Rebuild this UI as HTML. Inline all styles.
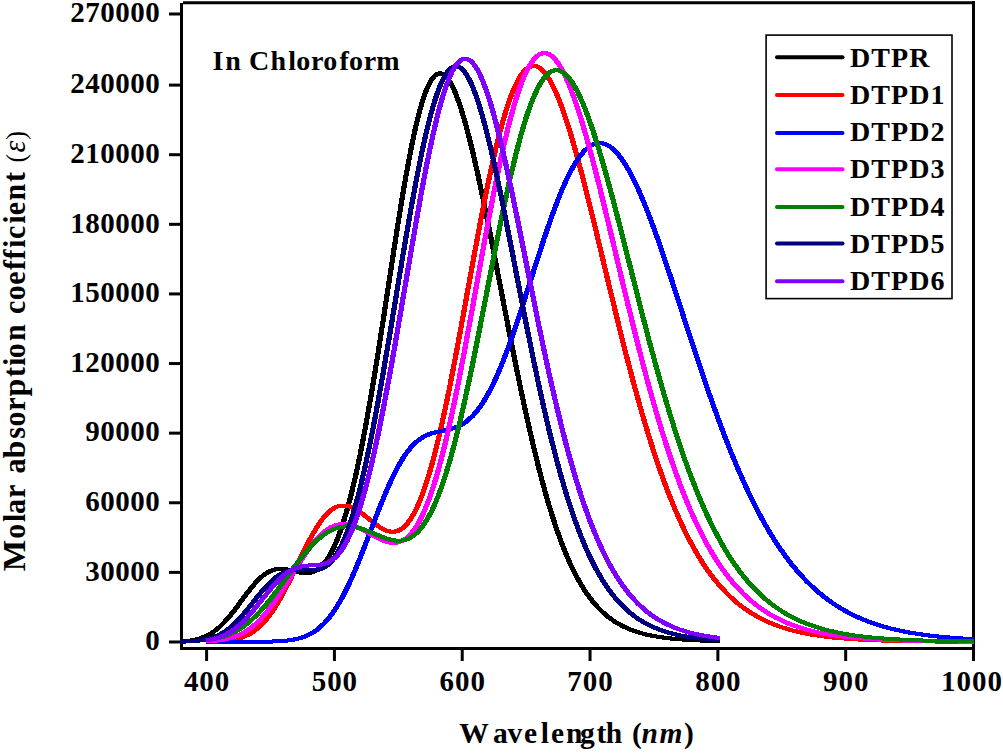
<!DOCTYPE html>
<html><head><meta charset="utf-8"><title>Absorption spectra</title>
<style>
html,body{margin:0;padding:0;background:#fff;}
body{width:1003px;height:753px;overflow:hidden;font-family:"Liberation Serif",serif;}
svg{display:block;}
text{font-family:"Liberation Serif",serif;font-weight:bold;fill:#000;}
.tk{font-size:29px;letter-spacing:0.5px;}
.tkx{font-size:29px;letter-spacing:0.95px;}
.lg{font-size:28px;letter-spacing:1.1px;}
</style></head><body>
<svg width="1003" height="753" viewBox="0 0 1003 753">
<rect x="0" y="0" width="1003" height="753" fill="#ffffff"/>

<g stroke="#000" stroke-width="3" fill="none" stroke-linecap="butt">
<path d="M181.5,3 V650"/>
<path d="M183,2.8 H975"/>
<path d="M973.5,1 V661"/>
<path d="M180,648.5 H975"/>
<path d="M169,14.00 H180"/>
<path d="M169,85.10 H180"/>
<path d="M169,154.71 H180"/>
<path d="M169,224.32 H180"/>
<path d="M169,293.93 H180"/>
<path d="M169,363.54 H180"/>
<path d="M169,433.15 H180"/>
<path d="M169,502.76 H180"/>
<path d="M169,572.37 H180"/>
<path d="M169,641.98 H180"/>
<path d="M206.60,650 V661"/>
<path d="M334.42,650 V661"/>
<path d="M462.23,650 V661"/>
<path d="M590.05,650 V661"/>
<path d="M717.87,650 V661"/>
<path d="M845.68,650 V661"/>
</g>
<g fill="none" stroke-width="4" stroke-linejoin="round" stroke-linecap="butt" shape-rendering="crispEdges">
<g stroke="#000000"><path transform="translate(-0.6,0)" d="M181.0,641.4 L183.6,641.2 L186.1,641.0 L188.7,640.7 L191.3,640.4 L193.8,639.9 L196.4,639.4 L198.9,638.7 L201.5,637.9 L204.0,636.9 L206.6,635.8 L209.2,634.5 L211.7,633.0 L214.3,631.2 L216.8,629.2 L219.4,627.1 L221.9,624.7 L224.5,622.0 L227.1,619.2 L229.6,616.2 L232.2,613.0 L234.7,609.8 L237.3,606.4 L239.8,602.9 L242.4,599.4 L244.9,596.0 L247.5,592.6 L250.1,589.3 L252.6,586.1 L255.2,583.2 L257.7,580.5 L260.3,578.0 L262.8,575.8 L265.4,573.9 L268.0,572.3 L270.5,571.0 L273.1,570.1 L275.6,569.4 L278.2,569.0 L280.7,568.9 L283.3,569.0 L285.8,569.3 L288.4,569.8 L291.0,570.4 L293.5,571.0 L296.1,571.6 L298.6,572.2 L301.2,572.7 L303.7,573.0 L306.3,573.1 L308.9,572.9 L311.4,572.4 L314.0,571.6 L316.5,570.3 L319.1,568.5 L321.6,566.2 L324.2,563.4 L326.7,560.0 L329.3,556.0 L331.9,551.4 L334.4,546.1 L337.0,540.1 L339.5,533.5 L342.1,526.1 L344.6,518.1 L347.2,509.4 L349.8,499.9 L352.3,489.8 L354.9,479.0 L357.4,467.5 L360.0,455.3 L362.5,442.5 L365.1,429.1 L367.6,415.1 L370.2,400.6 L372.8,385.6 L375.3,370.1 L377.9,354.2 L380.4,338.0 L383.0,321.5 L385.5,304.8 L388.1,288.0 L390.7,271.2 L393.2,254.5 L395.8,238.0 L398.3,221.8 L400.9,205.9 L403.4,190.6 L406.0,175.8 L408.6,161.8 L411.1,148.5 L413.7,136.2 L416.2,124.7 L418.8,114.4 L421.3,105.1 L423.9,96.9 L426.4,90.0 L429.0,84.2 L431.6,79.6 L434.1,76.3 L436.7,74.2 L439.2,73.3 L441.8,73.6 L444.3,75.0 L446.9,77.4 L449.5,81.0 L452.0,85.5 L454.6,91.0 L457.1,97.4 L459.7,104.6 L462.2,112.5 L464.8,121.2 L467.3,130.5 L469.9,140.5 L472.5,150.9 L475.0,161.9 L477.6,173.2 L480.1,185.0 L482.7,197.1 L485.2,209.5 L487.8,222.1 L490.4,234.9 L492.9,247.9 L495.5,261.0 L498.0,274.2 L500.6,287.4 L503.1,300.6 L505.7,313.8 L508.2,326.9 L510.8,339.9 L513.4,352.8 L515.9,365.5 L518.5,378.0 L521.0,390.3 L523.6,402.3 L526.1,414.1 L528.7,425.6 L531.3,436.9 L533.8,447.7 L536.4,458.3 L538.9,468.5 L541.5,478.3 L544.0,487.8 L546.6,496.9 L549.1,505.7 L551.7,514.0 L554.3,522.0 L556.8,529.6 L559.4,536.9 L561.9,543.8 L564.5,550.3 L567.0,556.5 L569.6,562.3 L572.2,567.8 L574.7,573.0 L577.3,577.9 L579.8,582.4 L582.4,586.7 L584.9,590.8 L587.5,594.5 L590.0,598.0 L592.6,601.3 L595.2,604.3 L597.7,607.2 L600.3,609.8 L602.8,612.3 L605.4,614.5 L607.9,616.7 L610.5,618.6 L613.1,620.4 L615.6,622.1 L618.2,623.6 L620.7,625.1 L623.3,626.4 L625.8,627.6 L628.4,628.7 L631.0,629.8 L633.5,630.7 L636.1,631.6 L638.6,632.4 L641.2,633.2 L643.7,633.8 L646.3,634.5 L648.8,635.1 L651.4,635.6 L654.0,636.1 L656.5,636.5 L659.1,637.0 L661.6,637.3 L664.2,637.7 L666.7,638.0 L669.3,638.3 L671.9,638.6 L674.4,638.8 L677.0,639.1 L679.5,639.3 L682.1,639.5 L684.6,639.7 L687.2,639.8 L689.7,640.0 L692.3,640.1 L694.9,640.3 L697.4,640.4 L700.0,640.5 L702.5,640.6 L705.1,640.7 L707.6,640.8 L710.2,640.9 L712.8,640.9 L715.3,641.0 L717.9,641.1 L719.1,641.1"/><path transform="translate(0.6,0)" d="M181.0,641.4 L183.6,641.2 L186.1,641.0 L188.7,640.7 L191.3,640.4 L193.8,639.9 L196.4,639.4 L198.9,638.7 L201.5,637.9 L204.0,636.9 L206.6,635.8 L209.2,634.5 L211.7,633.0 L214.3,631.2 L216.8,629.2 L219.4,627.1 L221.9,624.7 L224.5,622.0 L227.1,619.2 L229.6,616.2 L232.2,613.0 L234.7,609.8 L237.3,606.4 L239.8,602.9 L242.4,599.4 L244.9,596.0 L247.5,592.6 L250.1,589.3 L252.6,586.1 L255.2,583.2 L257.7,580.5 L260.3,578.0 L262.8,575.8 L265.4,573.9 L268.0,572.3 L270.5,571.0 L273.1,570.1 L275.6,569.4 L278.2,569.0 L280.7,568.9 L283.3,569.0 L285.8,569.3 L288.4,569.8 L291.0,570.4 L293.5,571.0 L296.1,571.6 L298.6,572.2 L301.2,572.7 L303.7,573.0 L306.3,573.1 L308.9,572.9 L311.4,572.4 L314.0,571.6 L316.5,570.3 L319.1,568.5 L321.6,566.2 L324.2,563.4 L326.7,560.0 L329.3,556.0 L331.9,551.4 L334.4,546.1 L337.0,540.1 L339.5,533.5 L342.1,526.1 L344.6,518.1 L347.2,509.4 L349.8,499.9 L352.3,489.8 L354.9,479.0 L357.4,467.5 L360.0,455.3 L362.5,442.5 L365.1,429.1 L367.6,415.1 L370.2,400.6 L372.8,385.6 L375.3,370.1 L377.9,354.2 L380.4,338.0 L383.0,321.5 L385.5,304.8 L388.1,288.0 L390.7,271.2 L393.2,254.5 L395.8,238.0 L398.3,221.8 L400.9,205.9 L403.4,190.6 L406.0,175.8 L408.6,161.8 L411.1,148.5 L413.7,136.2 L416.2,124.7 L418.8,114.4 L421.3,105.1 L423.9,96.9 L426.4,90.0 L429.0,84.2 L431.6,79.6 L434.1,76.3 L436.7,74.2 L439.2,73.3 L441.8,73.6 L444.3,75.0 L446.9,77.4 L449.5,81.0 L452.0,85.5 L454.6,91.0 L457.1,97.4 L459.7,104.6 L462.2,112.5 L464.8,121.2 L467.3,130.5 L469.9,140.5 L472.5,150.9 L475.0,161.9 L477.6,173.2 L480.1,185.0 L482.7,197.1 L485.2,209.5 L487.8,222.1 L490.4,234.9 L492.9,247.9 L495.5,261.0 L498.0,274.2 L500.6,287.4 L503.1,300.6 L505.7,313.8 L508.2,326.9 L510.8,339.9 L513.4,352.8 L515.9,365.5 L518.5,378.0 L521.0,390.3 L523.6,402.3 L526.1,414.1 L528.7,425.6 L531.3,436.9 L533.8,447.7 L536.4,458.3 L538.9,468.5 L541.5,478.3 L544.0,487.8 L546.6,496.9 L549.1,505.7 L551.7,514.0 L554.3,522.0 L556.8,529.6 L559.4,536.9 L561.9,543.8 L564.5,550.3 L567.0,556.5 L569.6,562.3 L572.2,567.8 L574.7,573.0 L577.3,577.9 L579.8,582.4 L582.4,586.7 L584.9,590.8 L587.5,594.5 L590.0,598.0 L592.6,601.3 L595.2,604.3 L597.7,607.2 L600.3,609.8 L602.8,612.3 L605.4,614.5 L607.9,616.7 L610.5,618.6 L613.1,620.4 L615.6,622.1 L618.2,623.6 L620.7,625.1 L623.3,626.4 L625.8,627.6 L628.4,628.7 L631.0,629.8 L633.5,630.7 L636.1,631.6 L638.6,632.4 L641.2,633.2 L643.7,633.8 L646.3,634.5 L648.8,635.1 L651.4,635.6 L654.0,636.1 L656.5,636.5 L659.1,637.0 L661.6,637.3 L664.2,637.7 L666.7,638.0 L669.3,638.3 L671.9,638.6 L674.4,638.8 L677.0,639.1 L679.5,639.3 L682.1,639.5 L684.6,639.7 L687.2,639.8 L689.7,640.0 L692.3,640.1 L694.9,640.3 L697.4,640.4 L700.0,640.5 L702.5,640.6 L705.1,640.7 L707.6,640.8 L710.2,640.9 L712.8,640.9 L715.3,641.0 L717.9,641.1 L719.1,641.1"/></g>
<g stroke="#ff0000"><path transform="translate(-0.6,0)" d="M206.6,641.7 L209.2,641.7 L211.7,641.6 L214.3,641.5 L216.8,641.4 L219.4,641.3 L221.9,641.1 L224.5,640.9 L227.1,640.7 L229.6,640.3 L232.2,639.9 L234.7,639.4 L237.3,638.8 L239.8,638.1 L242.4,637.3 L244.9,636.2 L247.5,635.0 L250.1,633.7 L252.6,632.1 L255.2,630.3 L257.7,628.2 L260.3,625.9 L262.8,623.3 L265.4,620.5 L268.0,617.3 L270.5,613.9 L273.1,610.3 L275.6,606.3 L278.2,602.1 L280.7,597.6 L283.3,593.0 L285.8,588.1 L288.4,583.1 L291.0,577.9 L293.5,572.6 L296.1,567.3 L298.6,562.0 L301.2,556.7 L303.7,551.4 L306.3,546.3 L308.9,541.3 L311.4,536.5 L314.0,532.0 L316.5,527.7 L319.1,523.8 L321.6,520.2 L324.2,516.9 L326.7,514.0 L329.3,511.6 L331.9,509.5 L334.4,507.9 L337.0,506.7 L339.5,505.9 L342.1,505.5 L344.6,505.5 L347.2,505.8 L349.8,506.5 L352.3,507.5 L354.9,508.8 L357.4,510.3 L360.0,512.0 L362.5,513.9 L365.1,515.9 L367.6,517.9 L370.2,520.0 L372.8,522.1 L375.3,524.1 L377.9,525.9 L380.4,527.6 L383.0,529.1 L385.5,530.2 L388.1,531.1 L390.7,531.6 L393.2,531.7 L395.8,531.4 L398.3,530.6 L400.9,529.3 L403.4,527.4 L406.0,525.0 L408.6,521.9 L411.1,518.2 L413.7,513.9 L416.2,509.0 L418.8,503.4 L421.3,497.1 L423.9,490.2 L426.4,482.6 L429.0,474.4 L431.6,465.6 L434.1,456.1 L436.7,446.0 L439.2,435.4 L441.8,424.3 L444.3,412.6 L446.9,400.5 L449.5,388.0 L452.0,375.1 L454.6,361.8 L457.1,348.3 L459.7,334.6 L462.2,320.7 L464.8,306.7 L467.3,292.6 L469.9,278.5 L472.5,264.5 L475.0,250.6 L477.6,236.9 L480.1,223.4 L482.7,210.1 L485.2,197.2 L487.8,184.7 L490.4,172.7 L492.9,161.1 L495.5,150.0 L498.0,139.5 L500.6,129.6 L503.1,120.3 L505.7,111.7 L508.2,103.8 L510.8,96.6 L513.4,90.1 L515.9,84.4 L518.5,79.4 L521.0,75.2 L523.6,71.8 L526.1,69.2 L528.7,67.3 L531.3,66.3 L533.8,65.9 L536.4,66.3 L538.9,67.5 L541.5,69.4 L544.0,71.9 L546.6,75.2 L549.1,79.1 L551.7,83.6 L554.3,88.8 L556.8,94.5 L559.4,100.7 L561.9,107.5 L564.5,114.7 L567.0,122.4 L569.6,130.5 L572.2,139.0 L574.7,147.8 L577.3,157.0 L579.8,166.4 L582.4,176.1 L584.9,186.0 L587.5,196.2 L590.0,206.4 L592.6,216.9 L595.2,227.4 L597.7,238.0 L600.3,248.7 L602.8,259.3 L605.4,270.0 L607.9,280.7 L610.5,291.4 L613.1,302.0 L615.6,312.5 L618.2,322.9 L620.7,333.2 L623.3,343.4 L625.8,353.5 L628.4,363.4 L631.0,373.1 L633.5,382.7 L636.1,392.1 L638.6,401.3 L641.2,410.3 L643.7,419.1 L646.3,427.7 L648.8,436.0 L651.4,444.2 L654.0,452.1 L656.5,459.9 L659.1,467.4 L661.6,474.7 L664.2,481.7 L666.7,488.6 L669.3,495.2 L671.9,501.6 L674.4,507.8 L677.0,513.8 L679.5,519.5 L682.1,525.1 L684.6,530.5 L687.2,535.6 L689.7,540.6 L692.3,545.3 L694.9,549.9 L697.4,554.3 L700.0,558.5 L702.5,562.6 L705.1,566.5 L707.6,570.2 L710.2,573.8 L712.8,577.2 L715.3,580.4 L717.9,583.5 L720.4,586.5 L723.0,589.3 L725.5,592.0 L728.1,594.6 L730.6,597.1 L733.2,599.4 L735.8,601.7 L738.3,603.8 L740.9,605.8 L743.4,607.7 L746.0,609.6 L748.5,611.3 L751.1,613.0 L753.7,614.5 L756.2,616.0 L758.8,617.5 L761.3,618.8 L763.9,620.1 L766.4,621.3 L769.0,622.4 L771.5,623.5 L774.1,624.5 L776.7,625.5 L779.2,626.4 L781.8,627.3 L784.3,628.1 L786.9,628.9 L789.4,629.7 L792.0,630.4 L794.6,631.0 L797.1,631.6 L799.7,632.2 L802.2,632.8 L804.8,633.3 L807.3,633.8 L809.9,634.3 L812.5,634.7 L815.0,635.1 L817.6,635.5 L820.1,635.9 L822.7,636.2 L825.2,636.6 L827.8,636.9 L830.3,637.2 L832.9,637.5 L835.5,637.7 L838.0,638.0 L840.6,638.2 L843.1,638.4 L845.7,638.6 L848.2,638.8 L850.8,639.0 L853.4,639.2 L855.9,639.3 L858.5,639.5 L861.0,639.6 L863.6,639.7 L866.1,639.9 L868.7,640.0 L871.2,640.1 L873.8,640.2 L876.4,640.3 L878.9,640.4 L881.5,640.5 L884.0,640.6 L886.6,640.6 L889.1,640.7 L891.7,640.8 L894.3,640.8 L896.8,640.9 L899.4,640.9 L901.9,641.0 L904.5,641.1 L907.0,641.1 L909.6,641.1 L912.1,641.2 L914.7,641.2 L917.3,641.3 L919.8,641.3 L922.4,641.3 L924.9,641.3 L927.5,641.4 L930.0,641.4 L932.6,641.4 L935.2,641.5 L937.7,641.5 L940.3,641.5 L942.8,641.5 L945.4,641.5 L947.9,641.5 L950.5,641.6 L953.0,641.6 L955.6,641.6 L958.2,641.6 L960.7,641.6 L963.3,641.6 L965.8,641.6 L968.4,641.6 L970.9,641.7 L973.5,641.7"/><path transform="translate(0.6,0)" d="M206.6,641.7 L209.2,641.7 L211.7,641.6 L214.3,641.5 L216.8,641.4 L219.4,641.3 L221.9,641.1 L224.5,640.9 L227.1,640.7 L229.6,640.3 L232.2,639.9 L234.7,639.4 L237.3,638.8 L239.8,638.1 L242.4,637.3 L244.9,636.2 L247.5,635.0 L250.1,633.7 L252.6,632.1 L255.2,630.3 L257.7,628.2 L260.3,625.9 L262.8,623.3 L265.4,620.5 L268.0,617.3 L270.5,613.9 L273.1,610.3 L275.6,606.3 L278.2,602.1 L280.7,597.6 L283.3,593.0 L285.8,588.1 L288.4,583.1 L291.0,577.9 L293.5,572.6 L296.1,567.3 L298.6,562.0 L301.2,556.7 L303.7,551.4 L306.3,546.3 L308.9,541.3 L311.4,536.5 L314.0,532.0 L316.5,527.7 L319.1,523.8 L321.6,520.2 L324.2,516.9 L326.7,514.0 L329.3,511.6 L331.9,509.5 L334.4,507.9 L337.0,506.7 L339.5,505.9 L342.1,505.5 L344.6,505.5 L347.2,505.8 L349.8,506.5 L352.3,507.5 L354.9,508.8 L357.4,510.3 L360.0,512.0 L362.5,513.9 L365.1,515.9 L367.6,517.9 L370.2,520.0 L372.8,522.1 L375.3,524.1 L377.9,525.9 L380.4,527.6 L383.0,529.1 L385.5,530.2 L388.1,531.1 L390.7,531.6 L393.2,531.7 L395.8,531.4 L398.3,530.6 L400.9,529.3 L403.4,527.4 L406.0,525.0 L408.6,521.9 L411.1,518.2 L413.7,513.9 L416.2,509.0 L418.8,503.4 L421.3,497.1 L423.9,490.2 L426.4,482.6 L429.0,474.4 L431.6,465.6 L434.1,456.1 L436.7,446.0 L439.2,435.4 L441.8,424.3 L444.3,412.6 L446.9,400.5 L449.5,388.0 L452.0,375.1 L454.6,361.8 L457.1,348.3 L459.7,334.6 L462.2,320.7 L464.8,306.7 L467.3,292.6 L469.9,278.5 L472.5,264.5 L475.0,250.6 L477.6,236.9 L480.1,223.4 L482.7,210.1 L485.2,197.2 L487.8,184.7 L490.4,172.7 L492.9,161.1 L495.5,150.0 L498.0,139.5 L500.6,129.6 L503.1,120.3 L505.7,111.7 L508.2,103.8 L510.8,96.6 L513.4,90.1 L515.9,84.4 L518.5,79.4 L521.0,75.2 L523.6,71.8 L526.1,69.2 L528.7,67.3 L531.3,66.3 L533.8,65.9 L536.4,66.3 L538.9,67.5 L541.5,69.4 L544.0,71.9 L546.6,75.2 L549.1,79.1 L551.7,83.6 L554.3,88.8 L556.8,94.5 L559.4,100.7 L561.9,107.5 L564.5,114.7 L567.0,122.4 L569.6,130.5 L572.2,139.0 L574.7,147.8 L577.3,157.0 L579.8,166.4 L582.4,176.1 L584.9,186.0 L587.5,196.2 L590.0,206.4 L592.6,216.9 L595.2,227.4 L597.7,238.0 L600.3,248.7 L602.8,259.3 L605.4,270.0 L607.9,280.7 L610.5,291.4 L613.1,302.0 L615.6,312.5 L618.2,322.9 L620.7,333.2 L623.3,343.4 L625.8,353.5 L628.4,363.4 L631.0,373.1 L633.5,382.7 L636.1,392.1 L638.6,401.3 L641.2,410.3 L643.7,419.1 L646.3,427.7 L648.8,436.0 L651.4,444.2 L654.0,452.1 L656.5,459.9 L659.1,467.4 L661.6,474.7 L664.2,481.7 L666.7,488.6 L669.3,495.2 L671.9,501.6 L674.4,507.8 L677.0,513.8 L679.5,519.5 L682.1,525.1 L684.6,530.5 L687.2,535.6 L689.7,540.6 L692.3,545.3 L694.9,549.9 L697.4,554.3 L700.0,558.5 L702.5,562.6 L705.1,566.5 L707.6,570.2 L710.2,573.8 L712.8,577.2 L715.3,580.4 L717.9,583.5 L720.4,586.5 L723.0,589.3 L725.5,592.0 L728.1,594.6 L730.6,597.1 L733.2,599.4 L735.8,601.7 L738.3,603.8 L740.9,605.8 L743.4,607.7 L746.0,609.6 L748.5,611.3 L751.1,613.0 L753.7,614.5 L756.2,616.0 L758.8,617.5 L761.3,618.8 L763.9,620.1 L766.4,621.3 L769.0,622.4 L771.5,623.5 L774.1,624.5 L776.7,625.5 L779.2,626.4 L781.8,627.3 L784.3,628.1 L786.9,628.9 L789.4,629.7 L792.0,630.4 L794.6,631.0 L797.1,631.6 L799.7,632.2 L802.2,632.8 L804.8,633.3 L807.3,633.8 L809.9,634.3 L812.5,634.7 L815.0,635.1 L817.6,635.5 L820.1,635.9 L822.7,636.2 L825.2,636.6 L827.8,636.9 L830.3,637.2 L832.9,637.5 L835.5,637.7 L838.0,638.0 L840.6,638.2 L843.1,638.4 L845.7,638.6 L848.2,638.8 L850.8,639.0 L853.4,639.2 L855.9,639.3 L858.5,639.5 L861.0,639.6 L863.6,639.7 L866.1,639.9 L868.7,640.0 L871.2,640.1 L873.8,640.2 L876.4,640.3 L878.9,640.4 L881.5,640.5 L884.0,640.6 L886.6,640.6 L889.1,640.7 L891.7,640.8 L894.3,640.8 L896.8,640.9 L899.4,640.9 L901.9,641.0 L904.5,641.1 L907.0,641.1 L909.6,641.1 L912.1,641.2 L914.7,641.2 L917.3,641.3 L919.8,641.3 L922.4,641.3 L924.9,641.3 L927.5,641.4 L930.0,641.4 L932.6,641.4 L935.2,641.5 L937.7,641.5 L940.3,641.5 L942.8,641.5 L945.4,641.5 L947.9,641.5 L950.5,641.6 L953.0,641.6 L955.6,641.6 L958.2,641.6 L960.7,641.6 L963.3,641.6 L965.8,641.6 L968.4,641.6 L970.9,641.7 L973.5,641.7"/></g>
<g stroke="#0000ff"><path transform="translate(-0.6,0)" d="M206.6,641.8 L209.2,641.8 L211.7,641.8 L214.3,641.8 L216.8,641.8 L219.4,641.8 L221.9,641.8 L224.5,641.8 L227.1,641.8 L229.6,641.8 L232.2,641.8 L234.7,641.8 L237.3,641.8 L239.8,641.8 L242.4,641.8 L244.9,641.8 L247.5,641.8 L250.1,641.8 L252.6,641.8 L255.2,641.8 L257.7,641.8 L260.3,641.7 L262.8,641.7 L265.4,641.7 L268.0,641.6 L270.5,641.6 L273.1,641.5 L275.6,641.4 L278.2,641.3 L280.7,641.1 L283.3,641.0 L285.8,640.7 L288.4,640.4 L291.0,640.1 L293.5,639.6 L296.1,639.1 L298.6,638.5 L301.2,637.8 L303.7,636.9 L306.3,635.9 L308.9,634.7 L311.4,633.4 L314.0,631.8 L316.5,630.1 L319.1,628.1 L321.6,625.8 L324.2,623.3 L326.7,620.6 L329.3,617.5 L331.9,614.2 L334.4,610.5 L337.0,606.5 L339.5,602.3 L342.1,597.7 L344.6,592.8 L347.2,587.7 L349.8,582.3 L352.3,576.6 L354.9,570.7 L357.4,564.6 L360.0,558.3 L362.5,551.8 L365.1,545.3 L367.6,538.6 L370.2,531.9 L372.8,525.2 L375.3,518.6 L377.9,512.0 L380.4,505.5 L383.0,499.2 L385.5,493.1 L388.1,487.1 L390.7,481.4 L393.2,476.0 L395.8,470.9 L398.3,466.1 L400.9,461.6 L403.4,457.5 L406.0,453.7 L408.6,450.3 L411.1,447.2 L413.7,444.5 L416.2,442.1 L418.8,440.0 L421.3,438.2 L423.9,436.7 L426.4,435.4 L429.0,434.3 L431.6,433.4 L434.1,432.7 L436.7,432.0 L439.2,431.5 L441.8,431.0 L444.3,430.5 L446.9,429.9 L449.5,429.3 L452.0,428.6 L454.6,427.8 L457.1,426.8 L459.7,425.6 L462.2,424.3 L464.8,422.6 L467.3,420.7 L469.9,418.5 L472.5,416.1 L475.0,413.3 L477.6,410.2 L480.1,406.7 L482.7,403.0 L485.2,398.9 L487.8,394.4 L490.4,389.6 L492.9,384.5 L495.5,379.1 L498.0,373.4 L500.6,367.3 L503.1,361.0 L505.7,354.4 L508.2,347.6 L510.8,340.5 L513.4,333.3 L515.9,325.8 L518.5,318.2 L521.0,310.4 L523.6,302.6 L526.1,294.6 L528.7,286.6 L531.3,278.6 L533.8,270.5 L536.4,262.5 L538.9,254.5 L541.5,246.7 L544.0,238.9 L546.6,231.3 L549.1,223.9 L551.7,216.6 L554.3,209.6 L556.8,202.8 L559.4,196.3 L561.9,190.1 L564.5,184.2 L567.0,178.6 L569.6,173.4 L572.2,168.6 L574.7,164.1 L577.3,160.1 L579.8,156.4 L582.4,153.2 L584.9,150.4 L587.5,148.1 L590.0,146.2 L592.6,144.7 L595.2,143.7 L597.7,143.2 L600.3,143.0 L602.8,143.4 L605.4,144.2 L607.9,145.4 L610.5,147.0 L613.1,149.1 L615.6,151.5 L618.2,154.4 L620.7,157.7 L623.3,161.3 L625.8,165.3 L628.4,169.6 L631.0,174.3 L633.5,179.3 L636.1,184.6 L638.6,190.1 L641.2,196.0 L643.7,202.1 L646.3,208.4 L648.8,214.9 L651.4,221.6 L654.0,228.6 L656.5,235.6 L659.1,242.9 L661.6,250.2 L664.2,257.7 L666.7,265.3 L669.3,273.0 L671.9,280.7 L674.4,288.5 L677.0,296.4 L679.5,304.2 L682.1,312.1 L684.6,320.0 L687.2,327.8 L689.7,335.7 L692.3,343.5 L694.9,351.3 L697.4,359.0 L700.0,366.7 L702.5,374.3 L705.1,381.8 L707.6,389.2 L710.2,396.5 L712.8,403.8 L715.3,410.9 L717.9,417.9 L720.4,424.8 L723.0,431.6 L725.5,438.3 L728.1,444.8 L730.6,451.3 L733.2,457.5 L735.8,463.7 L738.3,469.7 L740.9,475.6 L743.4,481.3 L746.0,486.9 L748.5,492.4 L751.1,497.7 L753.7,502.8 L756.2,507.9 L758.8,512.8 L761.3,517.6 L763.9,522.2 L766.4,526.7 L769.0,531.1 L771.5,535.3 L774.1,539.4 L776.7,543.4 L779.2,547.2 L781.8,550.9 L784.3,554.5 L786.9,558.0 L789.4,561.4 L792.0,564.7 L794.6,567.8 L797.1,570.8 L799.7,573.8 L802.2,576.6 L804.8,579.3 L807.3,581.9 L809.9,584.4 L812.5,586.9 L815.0,589.2 L817.6,591.5 L820.1,593.6 L822.7,595.7 L825.2,597.7 L827.8,599.7 L830.3,601.5 L832.9,603.3 L835.5,605.0 L838.0,606.6 L840.6,608.2 L843.1,609.7 L845.7,611.1 L848.2,612.5 L850.8,613.9 L853.4,615.1 L855.9,616.3 L858.5,617.5 L861.0,618.6 L863.6,619.7 L866.1,620.7 L868.7,621.7 L871.2,622.6 L873.8,623.5 L876.4,624.4 L878.9,625.2 L881.5,626.0 L884.0,626.7 L886.6,627.4 L889.1,628.1 L891.7,628.8 L894.3,629.4 L896.8,630.0 L899.4,630.5 L901.9,631.1 L904.5,631.6 L907.0,632.1 L909.6,632.6 L912.1,633.0 L914.7,633.4 L917.3,633.8 L919.8,634.2 L922.4,634.6 L924.9,634.9 L927.5,635.3 L930.0,635.6 L932.6,635.9 L935.2,636.2 L937.7,636.5 L940.3,636.7 L942.8,637.0 L945.4,637.2 L947.9,637.4 L950.5,637.7 L953.0,637.9 L955.6,638.1 L958.2,638.2 L960.7,638.4 L963.3,638.6 L965.8,638.8 L968.4,638.9 L970.9,639.0 L973.5,639.2"/><path transform="translate(0.6,0)" d="M206.6,641.8 L209.2,641.8 L211.7,641.8 L214.3,641.8 L216.8,641.8 L219.4,641.8 L221.9,641.8 L224.5,641.8 L227.1,641.8 L229.6,641.8 L232.2,641.8 L234.7,641.8 L237.3,641.8 L239.8,641.8 L242.4,641.8 L244.9,641.8 L247.5,641.8 L250.1,641.8 L252.6,641.8 L255.2,641.8 L257.7,641.8 L260.3,641.7 L262.8,641.7 L265.4,641.7 L268.0,641.6 L270.5,641.6 L273.1,641.5 L275.6,641.4 L278.2,641.3 L280.7,641.1 L283.3,641.0 L285.8,640.7 L288.4,640.4 L291.0,640.1 L293.5,639.6 L296.1,639.1 L298.6,638.5 L301.2,637.8 L303.7,636.9 L306.3,635.9 L308.9,634.7 L311.4,633.4 L314.0,631.8 L316.5,630.1 L319.1,628.1 L321.6,625.8 L324.2,623.3 L326.7,620.6 L329.3,617.5 L331.9,614.2 L334.4,610.5 L337.0,606.5 L339.5,602.3 L342.1,597.7 L344.6,592.8 L347.2,587.7 L349.8,582.3 L352.3,576.6 L354.9,570.7 L357.4,564.6 L360.0,558.3 L362.5,551.8 L365.1,545.3 L367.6,538.6 L370.2,531.9 L372.8,525.2 L375.3,518.6 L377.9,512.0 L380.4,505.5 L383.0,499.2 L385.5,493.1 L388.1,487.1 L390.7,481.4 L393.2,476.0 L395.8,470.9 L398.3,466.1 L400.9,461.6 L403.4,457.5 L406.0,453.7 L408.6,450.3 L411.1,447.2 L413.7,444.5 L416.2,442.1 L418.8,440.0 L421.3,438.2 L423.9,436.7 L426.4,435.4 L429.0,434.3 L431.6,433.4 L434.1,432.7 L436.7,432.0 L439.2,431.5 L441.8,431.0 L444.3,430.5 L446.9,429.9 L449.5,429.3 L452.0,428.6 L454.6,427.8 L457.1,426.8 L459.7,425.6 L462.2,424.3 L464.8,422.6 L467.3,420.7 L469.9,418.5 L472.5,416.1 L475.0,413.3 L477.6,410.2 L480.1,406.7 L482.7,403.0 L485.2,398.9 L487.8,394.4 L490.4,389.6 L492.9,384.5 L495.5,379.1 L498.0,373.4 L500.6,367.3 L503.1,361.0 L505.7,354.4 L508.2,347.6 L510.8,340.5 L513.4,333.3 L515.9,325.8 L518.5,318.2 L521.0,310.4 L523.6,302.6 L526.1,294.6 L528.7,286.6 L531.3,278.6 L533.8,270.5 L536.4,262.5 L538.9,254.5 L541.5,246.7 L544.0,238.9 L546.6,231.3 L549.1,223.9 L551.7,216.6 L554.3,209.6 L556.8,202.8 L559.4,196.3 L561.9,190.1 L564.5,184.2 L567.0,178.6 L569.6,173.4 L572.2,168.6 L574.7,164.1 L577.3,160.1 L579.8,156.4 L582.4,153.2 L584.9,150.4 L587.5,148.1 L590.0,146.2 L592.6,144.7 L595.2,143.7 L597.7,143.2 L600.3,143.0 L602.8,143.4 L605.4,144.2 L607.9,145.4 L610.5,147.0 L613.1,149.1 L615.6,151.5 L618.2,154.4 L620.7,157.7 L623.3,161.3 L625.8,165.3 L628.4,169.6 L631.0,174.3 L633.5,179.3 L636.1,184.6 L638.6,190.1 L641.2,196.0 L643.7,202.1 L646.3,208.4 L648.8,214.9 L651.4,221.6 L654.0,228.6 L656.5,235.6 L659.1,242.9 L661.6,250.2 L664.2,257.7 L666.7,265.3 L669.3,273.0 L671.9,280.7 L674.4,288.5 L677.0,296.4 L679.5,304.2 L682.1,312.1 L684.6,320.0 L687.2,327.8 L689.7,335.7 L692.3,343.5 L694.9,351.3 L697.4,359.0 L700.0,366.7 L702.5,374.3 L705.1,381.8 L707.6,389.2 L710.2,396.5 L712.8,403.8 L715.3,410.9 L717.9,417.9 L720.4,424.8 L723.0,431.6 L725.5,438.3 L728.1,444.8 L730.6,451.3 L733.2,457.5 L735.8,463.7 L738.3,469.7 L740.9,475.6 L743.4,481.3 L746.0,486.9 L748.5,492.4 L751.1,497.7 L753.7,502.8 L756.2,507.9 L758.8,512.8 L761.3,517.6 L763.9,522.2 L766.4,526.7 L769.0,531.1 L771.5,535.3 L774.1,539.4 L776.7,543.4 L779.2,547.2 L781.8,550.9 L784.3,554.5 L786.9,558.0 L789.4,561.4 L792.0,564.7 L794.6,567.8 L797.1,570.8 L799.7,573.8 L802.2,576.6 L804.8,579.3 L807.3,581.9 L809.9,584.4 L812.5,586.9 L815.0,589.2 L817.6,591.5 L820.1,593.6 L822.7,595.7 L825.2,597.7 L827.8,599.7 L830.3,601.5 L832.9,603.3 L835.5,605.0 L838.0,606.6 L840.6,608.2 L843.1,609.7 L845.7,611.1 L848.2,612.5 L850.8,613.9 L853.4,615.1 L855.9,616.3 L858.5,617.5 L861.0,618.6 L863.6,619.7 L866.1,620.7 L868.7,621.7 L871.2,622.6 L873.8,623.5 L876.4,624.4 L878.9,625.2 L881.5,626.0 L884.0,626.7 L886.6,627.4 L889.1,628.1 L891.7,628.8 L894.3,629.4 L896.8,630.0 L899.4,630.5 L901.9,631.1 L904.5,631.6 L907.0,632.1 L909.6,632.6 L912.1,633.0 L914.7,633.4 L917.3,633.8 L919.8,634.2 L922.4,634.6 L924.9,634.9 L927.5,635.3 L930.0,635.6 L932.6,635.9 L935.2,636.2 L937.7,636.5 L940.3,636.7 L942.8,637.0 L945.4,637.2 L947.9,637.4 L950.5,637.7 L953.0,637.9 L955.6,638.1 L958.2,638.2 L960.7,638.4 L963.3,638.6 L965.8,638.8 L968.4,638.9 L970.9,639.0 L973.5,639.2"/></g>
<g stroke="#ff00ff"><path transform="translate(-0.6,0)" d="M206.6,641.3 L209.2,641.2 L211.7,641.0 L214.3,640.8 L216.8,640.6 L219.4,640.2 L221.9,639.9 L224.5,639.4 L227.1,638.9 L229.6,638.2 L232.2,637.5 L234.7,636.6 L237.3,635.7 L239.8,634.5 L242.4,633.2 L244.9,631.8 L247.5,630.2 L250.1,628.4 L252.6,626.4 L255.2,624.3 L257.7,621.9 L260.3,619.4 L262.8,616.6 L265.4,613.7 L268.0,610.6 L270.5,607.3 L273.1,603.8 L275.6,600.2 L278.2,596.4 L280.7,592.6 L283.3,588.6 L285.8,584.6 L288.4,580.5 L291.0,576.3 L293.5,572.2 L296.1,568.1 L298.6,564.1 L301.2,560.1 L303.7,556.2 L306.3,552.5 L308.9,548.9 L311.4,545.5 L314.0,542.3 L316.5,539.3 L319.1,536.6 L321.6,534.1 L324.2,531.8 L326.7,529.9 L329.3,528.2 L331.9,526.8 L334.4,525.7 L337.0,524.8 L339.5,524.3 L342.1,524.0 L344.6,524.0 L347.2,524.2 L349.8,524.6 L352.3,525.3 L354.9,526.1 L357.4,527.1 L360.0,528.3 L362.5,529.6 L365.1,531.0 L367.6,532.4 L370.2,533.9 L372.8,535.3 L375.3,536.8 L377.9,538.1 L380.4,539.4 L383.0,540.5 L385.5,541.4 L388.1,542.1 L390.7,542.6 L393.2,542.8 L395.8,542.7 L398.3,542.2 L400.9,541.4 L403.4,540.1 L406.0,538.4 L408.6,536.2 L411.1,533.5 L413.7,530.3 L416.2,526.6 L418.8,522.3 L421.3,517.4 L423.9,512.0 L426.4,505.9 L429.0,499.2 L431.6,492.0 L434.1,484.1 L436.7,475.7 L439.2,466.6 L441.8,457.0 L444.3,446.9 L446.9,436.2 L449.5,425.0 L452.0,413.4 L454.6,401.3 L457.1,388.8 L459.7,375.9 L462.2,362.7 L464.8,349.3 L467.3,335.6 L469.9,321.7 L472.5,307.7 L475.0,293.6 L477.6,279.5 L480.1,265.4 L482.7,251.4 L485.2,237.5 L487.8,223.8 L490.4,210.4 L492.9,197.2 L495.5,184.4 L498.0,172.0 L500.6,160.0 L503.1,148.5 L505.7,137.5 L508.2,127.0 L510.8,117.2 L513.4,108.0 L515.9,99.4 L518.5,91.5 L521.0,84.3 L523.6,77.8 L526.1,72.1 L528.7,67.1 L531.3,62.9 L533.8,59.4 L536.4,56.7 L538.9,54.7 L541.5,53.5 L544.0,53.1 L546.6,53.3 L549.1,54.3 L551.7,56.0 L554.3,58.4 L556.8,61.5 L559.4,65.2 L561.9,69.5 L564.5,74.5 L567.0,80.0 L569.6,86.0 L572.2,92.6 L574.7,99.6 L577.3,107.1 L579.8,115.0 L582.4,123.3 L584.9,132.0 L587.5,141.0 L590.0,150.3 L592.6,159.9 L595.2,169.7 L597.7,179.7 L600.3,189.9 L602.8,200.2 L605.4,210.7 L607.9,221.2 L610.5,231.9 L613.1,242.5 L615.6,253.2 L618.2,263.9 L620.7,274.6 L623.3,285.3 L625.8,295.9 L628.4,306.4 L631.0,316.8 L633.5,327.1 L636.1,337.3 L638.6,347.3 L641.2,357.2 L643.7,367.0 L646.3,376.6 L648.8,386.0 L651.4,395.2 L654.0,404.2 L656.5,413.0 L659.1,421.6 L661.6,430.1 L664.2,438.3 L666.7,446.2 L669.3,454.0 L671.9,461.6 L674.4,468.9 L677.0,476.1 L679.5,483.0 L682.1,489.7 L684.6,496.1 L687.2,502.4 L689.7,508.5 L692.3,514.3 L694.9,520.0 L697.4,525.4 L700.0,530.7 L702.5,535.7 L705.1,540.6 L707.6,545.3 L710.2,549.8 L712.8,554.1 L715.3,558.3 L717.9,562.2 L720.4,566.1 L723.0,569.7 L725.5,573.2 L728.1,576.6 L730.6,579.8 L733.2,582.9 L735.8,585.8 L738.3,588.6 L740.9,591.3 L743.4,593.9 L746.0,596.3 L748.5,598.7 L751.1,600.9 L753.7,603.0 L756.2,605.0 L758.8,607.0 L761.3,608.8 L763.9,610.5 L766.4,612.2 L769.0,613.8 L771.5,615.3 L774.1,616.7 L776.7,618.1 L779.2,619.3 L781.8,620.6 L784.3,621.7 L786.9,622.8 L789.4,623.9 L792.0,624.8 L794.6,625.8 L797.1,626.7 L799.7,627.5 L802.2,628.3 L804.8,629.1 L807.3,629.8 L809.9,630.5 L812.5,631.1 L815.0,631.7 L817.6,632.3 L820.1,632.8 L822.7,633.3 L825.2,633.8 L827.8,634.3 L830.3,634.7 L832.9,635.1 L835.5,635.5 L838.0,635.9 L840.6,636.2 L843.1,636.5 L845.7,636.8 L848.2,637.1 L850.8,637.4 L853.4,637.7 L855.9,637.9 L858.5,638.1 L861.0,638.3 L863.6,638.5 L866.1,638.7 L868.7,638.9 L871.2,639.1 L873.8,639.2 L876.4,639.4 L878.9,639.5 L881.5,639.7 L884.0,639.8 L886.6,639.9 L889.1,640.0 L891.7,640.1 L894.3,640.2 L896.8,640.3 L899.4,640.4 L901.9,640.5 L904.5,640.6 L907.0,640.6 L909.6,640.7 L912.1,640.8 L914.7,640.8 L917.3,640.9 L919.8,641.0 L922.4,641.0 L924.9,641.1 L927.5,641.1 L930.0,641.1 L932.6,641.2 L935.2,641.2 L937.7,641.3 L940.3,641.3 L942.8,641.3 L945.4,641.3 L947.9,641.4 L950.5,641.4 L953.0,641.4 L955.6,641.4 L958.2,641.5 L960.7,641.5 L963.3,641.5 L965.8,641.5 L968.4,641.5 L970.9,641.6 L973.5,641.6"/><path transform="translate(0.6,0)" d="M206.6,641.3 L209.2,641.2 L211.7,641.0 L214.3,640.8 L216.8,640.6 L219.4,640.2 L221.9,639.9 L224.5,639.4 L227.1,638.9 L229.6,638.2 L232.2,637.5 L234.7,636.6 L237.3,635.7 L239.8,634.5 L242.4,633.2 L244.9,631.8 L247.5,630.2 L250.1,628.4 L252.6,626.4 L255.2,624.3 L257.7,621.9 L260.3,619.4 L262.8,616.6 L265.4,613.7 L268.0,610.6 L270.5,607.3 L273.1,603.8 L275.6,600.2 L278.2,596.4 L280.7,592.6 L283.3,588.6 L285.8,584.6 L288.4,580.5 L291.0,576.3 L293.5,572.2 L296.1,568.1 L298.6,564.1 L301.2,560.1 L303.7,556.2 L306.3,552.5 L308.9,548.9 L311.4,545.5 L314.0,542.3 L316.5,539.3 L319.1,536.6 L321.6,534.1 L324.2,531.8 L326.7,529.9 L329.3,528.2 L331.9,526.8 L334.4,525.7 L337.0,524.8 L339.5,524.3 L342.1,524.0 L344.6,524.0 L347.2,524.2 L349.8,524.6 L352.3,525.3 L354.9,526.1 L357.4,527.1 L360.0,528.3 L362.5,529.6 L365.1,531.0 L367.6,532.4 L370.2,533.9 L372.8,535.3 L375.3,536.8 L377.9,538.1 L380.4,539.4 L383.0,540.5 L385.5,541.4 L388.1,542.1 L390.7,542.6 L393.2,542.8 L395.8,542.7 L398.3,542.2 L400.9,541.4 L403.4,540.1 L406.0,538.4 L408.6,536.2 L411.1,533.5 L413.7,530.3 L416.2,526.6 L418.8,522.3 L421.3,517.4 L423.9,512.0 L426.4,505.9 L429.0,499.2 L431.6,492.0 L434.1,484.1 L436.7,475.7 L439.2,466.6 L441.8,457.0 L444.3,446.9 L446.9,436.2 L449.5,425.0 L452.0,413.4 L454.6,401.3 L457.1,388.8 L459.7,375.9 L462.2,362.7 L464.8,349.3 L467.3,335.6 L469.9,321.7 L472.5,307.7 L475.0,293.6 L477.6,279.5 L480.1,265.4 L482.7,251.4 L485.2,237.5 L487.8,223.8 L490.4,210.4 L492.9,197.2 L495.5,184.4 L498.0,172.0 L500.6,160.0 L503.1,148.5 L505.7,137.5 L508.2,127.0 L510.8,117.2 L513.4,108.0 L515.9,99.4 L518.5,91.5 L521.0,84.3 L523.6,77.8 L526.1,72.1 L528.7,67.1 L531.3,62.9 L533.8,59.4 L536.4,56.7 L538.9,54.7 L541.5,53.5 L544.0,53.1 L546.6,53.3 L549.1,54.3 L551.7,56.0 L554.3,58.4 L556.8,61.5 L559.4,65.2 L561.9,69.5 L564.5,74.5 L567.0,80.0 L569.6,86.0 L572.2,92.6 L574.7,99.6 L577.3,107.1 L579.8,115.0 L582.4,123.3 L584.9,132.0 L587.5,141.0 L590.0,150.3 L592.6,159.9 L595.2,169.7 L597.7,179.7 L600.3,189.9 L602.8,200.2 L605.4,210.7 L607.9,221.2 L610.5,231.9 L613.1,242.5 L615.6,253.2 L618.2,263.9 L620.7,274.6 L623.3,285.3 L625.8,295.9 L628.4,306.4 L631.0,316.8 L633.5,327.1 L636.1,337.3 L638.6,347.3 L641.2,357.2 L643.7,367.0 L646.3,376.6 L648.8,386.0 L651.4,395.2 L654.0,404.2 L656.5,413.0 L659.1,421.6 L661.6,430.1 L664.2,438.3 L666.7,446.2 L669.3,454.0 L671.9,461.6 L674.4,468.9 L677.0,476.1 L679.5,483.0 L682.1,489.7 L684.6,496.1 L687.2,502.4 L689.7,508.5 L692.3,514.3 L694.9,520.0 L697.4,525.4 L700.0,530.7 L702.5,535.7 L705.1,540.6 L707.6,545.3 L710.2,549.8 L712.8,554.1 L715.3,558.3 L717.9,562.2 L720.4,566.1 L723.0,569.7 L725.5,573.2 L728.1,576.6 L730.6,579.8 L733.2,582.9 L735.8,585.8 L738.3,588.6 L740.9,591.3 L743.4,593.9 L746.0,596.3 L748.5,598.7 L751.1,600.9 L753.7,603.0 L756.2,605.0 L758.8,607.0 L761.3,608.8 L763.9,610.5 L766.4,612.2 L769.0,613.8 L771.5,615.3 L774.1,616.7 L776.7,618.1 L779.2,619.3 L781.8,620.6 L784.3,621.7 L786.9,622.8 L789.4,623.9 L792.0,624.8 L794.6,625.8 L797.1,626.7 L799.7,627.5 L802.2,628.3 L804.8,629.1 L807.3,629.8 L809.9,630.5 L812.5,631.1 L815.0,631.7 L817.6,632.3 L820.1,632.8 L822.7,633.3 L825.2,633.8 L827.8,634.3 L830.3,634.7 L832.9,635.1 L835.5,635.5 L838.0,635.9 L840.6,636.2 L843.1,636.5 L845.7,636.8 L848.2,637.1 L850.8,637.4 L853.4,637.7 L855.9,637.9 L858.5,638.1 L861.0,638.3 L863.6,638.5 L866.1,638.7 L868.7,638.9 L871.2,639.1 L873.8,639.2 L876.4,639.4 L878.9,639.5 L881.5,639.7 L884.0,639.8 L886.6,639.9 L889.1,640.0 L891.7,640.1 L894.3,640.2 L896.8,640.3 L899.4,640.4 L901.9,640.5 L904.5,640.6 L907.0,640.6 L909.6,640.7 L912.1,640.8 L914.7,640.8 L917.3,640.9 L919.8,641.0 L922.4,641.0 L924.9,641.1 L927.5,641.1 L930.0,641.1 L932.6,641.2 L935.2,641.2 L937.7,641.3 L940.3,641.3 L942.8,641.3 L945.4,641.3 L947.9,641.4 L950.5,641.4 L953.0,641.4 L955.6,641.4 L958.2,641.5 L960.7,641.5 L963.3,641.5 L965.8,641.5 L968.4,641.5 L970.9,641.6 L973.5,641.6"/></g>
<g stroke="#008000"><path transform="translate(-0.6,0)" d="M206.6,640.2 L209.2,639.9 L211.7,639.4 L214.3,639.0 L216.8,638.4 L219.4,637.8 L221.9,637.1 L224.5,636.3 L227.1,635.3 L229.6,634.3 L232.2,633.1 L234.7,631.9 L237.3,630.4 L239.8,628.9 L242.4,627.2 L244.9,625.3 L247.5,623.4 L250.1,621.2 L252.6,618.9 L255.2,616.5 L257.7,613.9 L260.3,611.2 L262.8,608.4 L265.4,605.4 L268.0,602.3 L270.5,599.1 L273.1,595.8 L275.6,592.5 L278.2,589.1 L280.7,585.6 L283.3,582.1 L285.8,578.5 L288.4,575.0 L291.0,571.5 L293.5,568.0 L296.1,564.6 L298.6,561.2 L301.2,557.9 L303.7,554.7 L306.3,551.7 L308.9,548.7 L311.4,545.9 L314.0,543.3 L316.5,540.8 L319.1,538.5 L321.6,536.4 L324.2,534.5 L326.7,532.8 L329.3,531.3 L331.9,530.0 L334.4,528.9 L337.0,528.0 L339.5,527.3 L342.1,526.8 L344.6,526.5 L347.2,526.4 L349.8,526.4 L352.3,526.7 L354.9,527.1 L357.4,527.6 L360.0,528.3 L362.5,529.1 L365.1,530.0 L367.6,530.9 L370.2,532.0 L372.8,533.0 L375.3,534.1 L377.9,535.2 L380.4,536.3 L383.0,537.3 L385.5,538.2 L388.1,539.0 L390.7,539.7 L393.2,540.3 L395.8,540.6 L398.3,540.7 L400.9,540.6 L403.4,540.3 L406.0,539.6 L408.6,538.6 L411.1,537.3 L413.7,535.5 L416.2,533.4 L418.8,530.9 L421.3,527.9 L423.9,524.4 L426.4,520.5 L429.0,516.1 L431.6,511.1 L434.1,505.7 L436.7,499.7 L439.2,493.2 L441.8,486.2 L444.3,478.6 L446.9,470.5 L449.5,461.9 L452.0,452.8 L454.6,443.3 L457.1,433.2 L459.7,422.7 L462.2,411.8 L464.8,400.5 L467.3,388.8 L469.9,376.8 L472.5,364.6 L475.0,352.0 L477.6,339.3 L480.1,326.4 L482.7,313.4 L485.2,300.3 L487.8,287.2 L490.4,274.1 L492.9,261.0 L495.5,248.1 L498.0,235.3 L500.6,222.7 L503.1,210.4 L505.7,198.4 L508.2,186.7 L510.8,175.4 L513.4,164.6 L515.9,154.2 L518.5,144.2 L521.0,134.8 L523.6,126.0 L526.1,117.8 L528.7,110.1 L531.3,103.1 L533.8,96.7 L536.4,91.0 L538.9,86.0 L541.5,81.6 L544.0,78.0 L546.6,75.0 L549.1,72.8 L551.7,71.2 L554.3,70.3 L556.8,70.1 L559.4,70.6 L561.9,71.7 L564.5,73.5 L567.0,75.8 L569.6,78.9 L572.2,82.5 L574.7,86.6 L577.3,91.3 L579.8,96.6 L582.4,102.3 L584.9,108.5 L587.5,115.1 L590.0,122.2 L592.6,129.6 L595.2,137.5 L597.7,145.6 L600.3,154.1 L602.8,162.8 L605.4,171.8 L607.9,181.0 L610.5,190.4 L613.1,200.0 L615.6,209.7 L618.2,219.6 L620.7,229.5 L623.3,239.5 L625.8,249.6 L628.4,259.7 L631.0,269.8 L633.5,279.9 L636.1,290.0 L638.6,300.0 L641.2,310.0 L643.7,319.9 L646.3,329.7 L648.8,339.4 L651.4,349.0 L654.0,358.4 L656.5,367.7 L659.1,376.9 L661.6,385.9 L664.2,394.8 L666.7,403.4 L669.3,411.9 L671.9,420.2 L674.4,428.4 L677.0,436.3 L679.5,444.1 L682.1,451.6 L684.6,459.0 L687.2,466.1 L689.7,473.1 L692.3,479.8 L694.9,486.4 L697.4,492.7 L700.0,498.9 L702.5,504.9 L705.1,510.6 L707.6,516.2 L710.2,521.6 L712.8,526.8 L715.3,531.8 L717.9,536.7 L720.4,541.4 L723.0,545.9 L725.5,550.2 L728.1,554.4 L730.6,558.4 L733.2,562.2 L735.8,565.9 L738.3,569.5 L740.9,572.9 L743.4,576.1 L746.0,579.3 L748.5,582.3 L751.1,585.1 L753.7,587.9 L756.2,590.5 L758.8,593.0 L761.3,595.5 L763.9,597.8 L766.4,599.9 L769.0,602.0 L771.5,604.0 L774.1,606.0 L776.7,607.8 L779.2,609.5 L781.8,611.2 L784.3,612.7 L786.9,614.3 L789.4,615.7 L792.0,617.0 L794.6,618.3 L797.1,619.6 L799.7,620.7 L802.2,621.9 L804.8,622.9 L807.3,623.9 L809.9,624.9 L812.5,625.8 L815.0,626.6 L817.6,627.5 L820.1,628.2 L822.7,629.0 L825.2,629.7 L827.8,630.3 L830.3,631.0 L832.9,631.5 L835.5,632.1 L838.0,632.6 L840.6,633.1 L843.1,633.6 L845.7,634.1 L848.2,634.5 L850.8,634.9 L853.4,635.3 L855.9,635.7 L858.5,636.0 L861.0,636.3 L863.6,636.6 L866.1,636.9 L868.7,637.2 L871.2,637.5 L873.8,637.7 L876.4,637.9 L878.9,638.2 L881.5,638.4 L884.0,638.6 L886.6,638.7 L889.1,638.9 L891.7,639.1 L894.3,639.2 L896.8,639.4 L899.4,639.5 L901.9,639.7 L904.5,639.8 L907.0,639.9 L909.6,640.0 L912.1,640.1 L914.7,640.2 L917.3,640.3 L919.8,640.4 L922.4,640.5 L924.9,640.5 L927.5,640.6 L930.0,640.7 L932.6,640.7 L935.2,640.8 L937.7,640.9 L940.3,640.9 L942.8,641.0 L945.4,641.0 L947.9,641.1 L950.5,641.1 L953.0,641.1 L955.6,641.2 L958.2,641.2 L960.7,641.3 L963.3,641.3 L965.8,641.3 L968.4,641.3 L970.9,641.4 L973.5,641.4"/><path transform="translate(0.6,0)" d="M206.6,640.2 L209.2,639.9 L211.7,639.4 L214.3,639.0 L216.8,638.4 L219.4,637.8 L221.9,637.1 L224.5,636.3 L227.1,635.3 L229.6,634.3 L232.2,633.1 L234.7,631.9 L237.3,630.4 L239.8,628.9 L242.4,627.2 L244.9,625.3 L247.5,623.4 L250.1,621.2 L252.6,618.9 L255.2,616.5 L257.7,613.9 L260.3,611.2 L262.8,608.4 L265.4,605.4 L268.0,602.3 L270.5,599.1 L273.1,595.8 L275.6,592.5 L278.2,589.1 L280.7,585.6 L283.3,582.1 L285.8,578.5 L288.4,575.0 L291.0,571.5 L293.5,568.0 L296.1,564.6 L298.6,561.2 L301.2,557.9 L303.7,554.7 L306.3,551.7 L308.9,548.7 L311.4,545.9 L314.0,543.3 L316.5,540.8 L319.1,538.5 L321.6,536.4 L324.2,534.5 L326.7,532.8 L329.3,531.3 L331.9,530.0 L334.4,528.9 L337.0,528.0 L339.5,527.3 L342.1,526.8 L344.6,526.5 L347.2,526.4 L349.8,526.4 L352.3,526.7 L354.9,527.1 L357.4,527.6 L360.0,528.3 L362.5,529.1 L365.1,530.0 L367.6,530.9 L370.2,532.0 L372.8,533.0 L375.3,534.1 L377.9,535.2 L380.4,536.3 L383.0,537.3 L385.5,538.2 L388.1,539.0 L390.7,539.7 L393.2,540.3 L395.8,540.6 L398.3,540.7 L400.9,540.6 L403.4,540.3 L406.0,539.6 L408.6,538.6 L411.1,537.3 L413.7,535.5 L416.2,533.4 L418.8,530.9 L421.3,527.9 L423.9,524.4 L426.4,520.5 L429.0,516.1 L431.6,511.1 L434.1,505.7 L436.7,499.7 L439.2,493.2 L441.8,486.2 L444.3,478.6 L446.9,470.5 L449.5,461.9 L452.0,452.8 L454.6,443.3 L457.1,433.2 L459.7,422.7 L462.2,411.8 L464.8,400.5 L467.3,388.8 L469.9,376.8 L472.5,364.6 L475.0,352.0 L477.6,339.3 L480.1,326.4 L482.7,313.4 L485.2,300.3 L487.8,287.2 L490.4,274.1 L492.9,261.0 L495.5,248.1 L498.0,235.3 L500.6,222.7 L503.1,210.4 L505.7,198.4 L508.2,186.7 L510.8,175.4 L513.4,164.6 L515.9,154.2 L518.5,144.2 L521.0,134.8 L523.6,126.0 L526.1,117.8 L528.7,110.1 L531.3,103.1 L533.8,96.7 L536.4,91.0 L538.9,86.0 L541.5,81.6 L544.0,78.0 L546.6,75.0 L549.1,72.8 L551.7,71.2 L554.3,70.3 L556.8,70.1 L559.4,70.6 L561.9,71.7 L564.5,73.5 L567.0,75.8 L569.6,78.9 L572.2,82.5 L574.7,86.6 L577.3,91.3 L579.8,96.6 L582.4,102.3 L584.9,108.5 L587.5,115.1 L590.0,122.2 L592.6,129.6 L595.2,137.5 L597.7,145.6 L600.3,154.1 L602.8,162.8 L605.4,171.8 L607.9,181.0 L610.5,190.4 L613.1,200.0 L615.6,209.7 L618.2,219.6 L620.7,229.5 L623.3,239.5 L625.8,249.6 L628.4,259.7 L631.0,269.8 L633.5,279.9 L636.1,290.0 L638.6,300.0 L641.2,310.0 L643.7,319.9 L646.3,329.7 L648.8,339.4 L651.4,349.0 L654.0,358.4 L656.5,367.7 L659.1,376.9 L661.6,385.9 L664.2,394.8 L666.7,403.4 L669.3,411.9 L671.9,420.2 L674.4,428.4 L677.0,436.3 L679.5,444.1 L682.1,451.6 L684.6,459.0 L687.2,466.1 L689.7,473.1 L692.3,479.8 L694.9,486.4 L697.4,492.7 L700.0,498.9 L702.5,504.9 L705.1,510.6 L707.6,516.2 L710.2,521.6 L712.8,526.8 L715.3,531.8 L717.9,536.7 L720.4,541.4 L723.0,545.9 L725.5,550.2 L728.1,554.4 L730.6,558.4 L733.2,562.2 L735.8,565.9 L738.3,569.5 L740.9,572.9 L743.4,576.1 L746.0,579.3 L748.5,582.3 L751.1,585.1 L753.7,587.9 L756.2,590.5 L758.8,593.0 L761.3,595.5 L763.9,597.8 L766.4,599.9 L769.0,602.0 L771.5,604.0 L774.1,606.0 L776.7,607.8 L779.2,609.5 L781.8,611.2 L784.3,612.7 L786.9,614.3 L789.4,615.7 L792.0,617.0 L794.6,618.3 L797.1,619.6 L799.7,620.7 L802.2,621.9 L804.8,622.9 L807.3,623.9 L809.9,624.9 L812.5,625.8 L815.0,626.6 L817.6,627.5 L820.1,628.2 L822.7,629.0 L825.2,629.7 L827.8,630.3 L830.3,631.0 L832.9,631.5 L835.5,632.1 L838.0,632.6 L840.6,633.1 L843.1,633.6 L845.7,634.1 L848.2,634.5 L850.8,634.9 L853.4,635.3 L855.9,635.7 L858.5,636.0 L861.0,636.3 L863.6,636.6 L866.1,636.9 L868.7,637.2 L871.2,637.5 L873.8,637.7 L876.4,637.9 L878.9,638.2 L881.5,638.4 L884.0,638.6 L886.6,638.7 L889.1,638.9 L891.7,639.1 L894.3,639.2 L896.8,639.4 L899.4,639.5 L901.9,639.7 L904.5,639.8 L907.0,639.9 L909.6,640.0 L912.1,640.1 L914.7,640.2 L917.3,640.3 L919.8,640.4 L922.4,640.5 L924.9,640.5 L927.5,640.6 L930.0,640.7 L932.6,640.7 L935.2,640.8 L937.7,640.9 L940.3,640.9 L942.8,641.0 L945.4,641.0 L947.9,641.1 L950.5,641.1 L953.0,641.1 L955.6,641.2 L958.2,641.2 L960.7,641.3 L963.3,641.3 L965.8,641.3 L968.4,641.3 L970.9,641.4 L973.5,641.4"/></g>
<g stroke="#000080"><path transform="translate(-0.6,0)" d="M181.0,641.7 L183.6,641.6 L186.1,641.5 L188.7,641.4 L191.3,641.3 L193.8,641.1 L196.4,640.9 L198.9,640.6 L201.5,640.3 L204.0,639.8 L206.6,639.3 L209.2,638.7 L211.7,637.9 L214.3,637.0 L216.8,635.9 L219.4,634.7 L221.9,633.3 L224.5,631.7 L227.1,629.9 L229.6,628.0 L232.2,625.8 L234.7,623.4 L237.3,620.9 L239.8,618.2 L242.4,615.3 L244.9,612.3 L247.5,609.2 L250.1,606.1 L252.6,602.9 L255.2,599.6 L257.7,596.4 L260.3,593.3 L262.8,590.2 L265.4,587.3 L268.0,584.6 L270.5,582.0 L273.1,579.6 L275.6,577.5 L278.2,575.7 L280.7,574.1 L283.3,572.7 L285.8,571.7 L288.4,570.8 L291.0,570.3 L293.5,569.9 L296.1,569.8 L298.6,569.7 L301.2,569.9 L303.7,570.0 L306.3,570.2 L308.9,570.4 L311.4,570.5 L314.0,570.4 L316.5,570.1 L319.1,569.6 L321.6,568.7 L324.2,567.4 L326.7,565.8 L329.3,563.6 L331.9,560.9 L334.4,557.6 L337.0,553.8 L339.5,549.2 L342.1,544.1 L344.6,538.2 L347.2,531.7 L349.8,524.4 L352.3,516.5 L354.9,507.9 L357.4,498.6 L360.0,488.6 L362.5,478.0 L365.1,466.7 L367.6,454.9 L370.2,442.6 L372.8,429.7 L375.3,416.3 L377.9,402.5 L380.4,388.4 L383.0,373.9 L385.5,359.1 L388.1,344.1 L390.7,328.9 L393.2,313.6 L395.8,298.2 L398.3,282.8 L400.9,267.5 L403.4,252.3 L406.0,237.3 L408.6,222.6 L411.1,208.1 L413.7,194.1 L416.2,180.5 L418.8,167.4 L421.3,154.9 L423.9,143.0 L426.4,131.8 L429.0,121.4 L431.6,111.7 L434.1,102.9 L436.7,94.9 L439.2,87.9 L441.8,81.8 L444.3,76.7 L446.9,72.6 L449.5,69.5 L452.0,67.4 L454.6,66.3 L457.1,66.3 L459.7,67.2 L462.2,69.1 L464.8,72.1 L467.3,75.9 L469.9,80.7 L472.5,86.4 L475.0,92.9 L477.6,100.2 L480.1,108.2 L482.7,117.0 L485.2,126.4 L487.8,136.4 L490.4,147.0 L492.9,158.0 L495.5,169.6 L498.0,181.5 L500.6,193.7 L503.1,206.2 L505.7,219.0 L508.2,231.9 L510.8,244.9 L513.4,258.1 L515.9,271.3 L518.5,284.4 L521.0,297.6 L523.6,310.6 L526.1,323.6 L528.7,336.3 L531.3,349.0 L533.8,361.4 L536.4,373.5 L538.9,385.5 L541.5,397.1 L544.0,408.5 L546.6,419.5 L549.1,430.3 L551.7,440.7 L554.3,450.8 L556.8,460.6 L559.4,470.0 L561.9,479.1 L564.5,487.8 L567.0,496.2 L569.6,504.3 L572.2,512.0 L574.7,519.4 L577.3,526.5 L579.8,533.2 L582.4,539.6 L584.9,545.7 L587.5,551.5 L590.0,557.1 L592.6,562.3 L595.2,567.3 L597.7,572.0 L600.3,576.4 L602.8,580.6 L605.4,584.6 L607.9,588.4 L610.5,591.9 L613.1,595.2 L615.6,598.4 L618.2,601.3 L620.7,604.1 L623.3,606.7 L625.8,609.1 L628.4,611.4 L631.0,613.5 L633.5,615.5 L636.1,617.4 L638.6,619.1 L641.2,620.8 L643.7,622.3 L646.3,623.7 L648.8,625.0 L651.4,626.3 L654.0,627.4 L656.5,628.5 L659.1,629.5 L661.6,630.4 L664.2,631.3 L666.7,632.1 L669.3,632.8 L671.9,633.5 L674.4,634.1 L677.0,634.7 L679.5,635.3 L682.1,635.8 L684.6,636.2 L687.2,636.7 L689.7,637.1 L692.3,637.5 L694.9,637.8 L697.4,638.1 L700.0,638.4 L702.5,638.7 L705.1,638.9 L707.6,639.2 L710.2,639.4 L712.8,639.6 L715.3,639.7 L717.9,639.9 L719.1,640.0"/><path transform="translate(0.6,0)" d="M181.0,641.7 L183.6,641.6 L186.1,641.5 L188.7,641.4 L191.3,641.3 L193.8,641.1 L196.4,640.9 L198.9,640.6 L201.5,640.3 L204.0,639.8 L206.6,639.3 L209.2,638.7 L211.7,637.9 L214.3,637.0 L216.8,635.9 L219.4,634.7 L221.9,633.3 L224.5,631.7 L227.1,629.9 L229.6,628.0 L232.2,625.8 L234.7,623.4 L237.3,620.9 L239.8,618.2 L242.4,615.3 L244.9,612.3 L247.5,609.2 L250.1,606.1 L252.6,602.9 L255.2,599.6 L257.7,596.4 L260.3,593.3 L262.8,590.2 L265.4,587.3 L268.0,584.6 L270.5,582.0 L273.1,579.6 L275.6,577.5 L278.2,575.7 L280.7,574.1 L283.3,572.7 L285.8,571.7 L288.4,570.8 L291.0,570.3 L293.5,569.9 L296.1,569.8 L298.6,569.7 L301.2,569.9 L303.7,570.0 L306.3,570.2 L308.9,570.4 L311.4,570.5 L314.0,570.4 L316.5,570.1 L319.1,569.6 L321.6,568.7 L324.2,567.4 L326.7,565.8 L329.3,563.6 L331.9,560.9 L334.4,557.6 L337.0,553.8 L339.5,549.2 L342.1,544.1 L344.6,538.2 L347.2,531.7 L349.8,524.4 L352.3,516.5 L354.9,507.9 L357.4,498.6 L360.0,488.6 L362.5,478.0 L365.1,466.7 L367.6,454.9 L370.2,442.6 L372.8,429.7 L375.3,416.3 L377.9,402.5 L380.4,388.4 L383.0,373.9 L385.5,359.1 L388.1,344.1 L390.7,328.9 L393.2,313.6 L395.8,298.2 L398.3,282.8 L400.9,267.5 L403.4,252.3 L406.0,237.3 L408.6,222.6 L411.1,208.1 L413.7,194.1 L416.2,180.5 L418.8,167.4 L421.3,154.9 L423.9,143.0 L426.4,131.8 L429.0,121.4 L431.6,111.7 L434.1,102.9 L436.7,94.9 L439.2,87.9 L441.8,81.8 L444.3,76.7 L446.9,72.6 L449.5,69.5 L452.0,67.4 L454.6,66.3 L457.1,66.3 L459.7,67.2 L462.2,69.1 L464.8,72.1 L467.3,75.9 L469.9,80.7 L472.5,86.4 L475.0,92.9 L477.6,100.2 L480.1,108.2 L482.7,117.0 L485.2,126.4 L487.8,136.4 L490.4,147.0 L492.9,158.0 L495.5,169.6 L498.0,181.5 L500.6,193.7 L503.1,206.2 L505.7,219.0 L508.2,231.9 L510.8,244.9 L513.4,258.1 L515.9,271.3 L518.5,284.4 L521.0,297.6 L523.6,310.6 L526.1,323.6 L528.7,336.3 L531.3,349.0 L533.8,361.4 L536.4,373.5 L538.9,385.5 L541.5,397.1 L544.0,408.5 L546.6,419.5 L549.1,430.3 L551.7,440.7 L554.3,450.8 L556.8,460.6 L559.4,470.0 L561.9,479.1 L564.5,487.8 L567.0,496.2 L569.6,504.3 L572.2,512.0 L574.7,519.4 L577.3,526.5 L579.8,533.2 L582.4,539.6 L584.9,545.7 L587.5,551.5 L590.0,557.1 L592.6,562.3 L595.2,567.3 L597.7,572.0 L600.3,576.4 L602.8,580.6 L605.4,584.6 L607.9,588.4 L610.5,591.9 L613.1,595.2 L615.6,598.4 L618.2,601.3 L620.7,604.1 L623.3,606.7 L625.8,609.1 L628.4,611.4 L631.0,613.5 L633.5,615.5 L636.1,617.4 L638.6,619.1 L641.2,620.8 L643.7,622.3 L646.3,623.7 L648.8,625.0 L651.4,626.3 L654.0,627.4 L656.5,628.5 L659.1,629.5 L661.6,630.4 L664.2,631.3 L666.7,632.1 L669.3,632.8 L671.9,633.5 L674.4,634.1 L677.0,634.7 L679.5,635.3 L682.1,635.8 L684.6,636.2 L687.2,636.7 L689.7,637.1 L692.3,637.5 L694.9,637.8 L697.4,638.1 L700.0,638.4 L702.5,638.7 L705.1,638.9 L707.6,639.2 L710.2,639.4 L712.8,639.6 L715.3,639.7 L717.9,639.9 L719.1,640.0"/></g>
<g stroke="#8000ff"><path transform="translate(-0.6,0)" d="M206.6,640.3 L209.2,639.9 L211.7,639.4 L214.3,638.8 L216.8,638.1 L219.4,637.2 L221.9,636.3 L224.5,635.1 L227.1,633.8 L229.6,632.4 L232.2,630.7 L234.7,628.9 L237.3,626.9 L239.8,624.7 L242.4,622.3 L244.9,619.7 L247.5,617.0 L250.1,614.2 L252.6,611.2 L255.2,608.1 L257.7,604.9 L260.3,601.7 L262.8,598.5 L265.4,595.3 L268.0,592.2 L270.5,589.1 L273.1,586.1 L275.6,583.3 L278.2,580.6 L280.7,578.2 L283.3,575.9 L285.8,573.8 L288.4,572.0 L291.0,570.5 L293.5,569.2 L296.1,568.1 L298.6,567.2 L301.2,566.5 L303.7,566.1 L306.3,565.7 L308.9,565.5 L311.4,565.3 L314.0,565.2 L316.5,565.0 L319.1,564.8 L321.6,564.4 L324.2,563.8 L326.7,562.9 L329.3,561.7 L331.9,560.2 L334.4,558.2 L337.0,555.7 L339.5,552.8 L342.1,549.3 L344.6,545.2 L347.2,540.5 L349.8,535.2 L352.3,529.2 L354.9,522.6 L357.4,515.3 L360.0,507.5 L362.5,498.9 L365.1,489.8 L367.6,480.0 L370.2,469.7 L372.8,458.8 L375.3,447.4 L377.9,435.4 L380.4,423.0 L383.0,410.2 L385.5,396.9 L388.1,383.3 L390.7,369.3 L393.2,355.0 L395.8,340.5 L398.3,325.8 L400.9,310.9 L403.4,295.9 L406.0,280.9 L408.6,265.9 L411.1,250.9 L413.7,236.1 L416.2,221.5 L418.8,207.1 L421.3,193.0 L423.9,179.3 L426.4,166.1 L429.0,153.4 L431.6,141.3 L434.1,129.8 L436.7,119.1 L439.2,109.0 L441.8,99.8 L444.3,91.5 L446.9,84.0 L449.5,77.4 L452.0,71.8 L454.6,67.2 L457.1,63.6 L459.7,61.0 L462.2,59.3 L464.8,58.7 L467.3,59.0 L469.9,60.4 L472.5,62.7 L475.0,65.9 L477.6,70.0 L480.1,75.0 L482.7,80.9 L485.2,87.5 L487.8,94.9 L490.4,103.0 L492.9,111.7 L495.5,121.1 L498.0,131.0 L500.6,141.4 L503.1,152.3 L505.7,163.5 L508.2,175.2 L510.8,187.1 L513.4,199.3 L515.9,211.7 L518.5,224.3 L521.0,236.9 L523.6,249.7 L526.1,262.5 L528.7,275.3 L531.3,288.0 L533.8,300.7 L536.4,313.2 L538.9,325.7 L541.5,338.0 L544.0,350.0 L546.6,361.9 L549.1,373.6 L551.7,385.0 L554.3,396.2 L556.8,407.0 L559.4,417.6 L561.9,427.9 L564.5,438.0 L567.0,447.7 L569.6,457.0 L572.2,466.1 L574.7,474.9 L577.3,483.3 L579.8,491.5 L582.4,499.3 L584.9,506.8 L587.5,514.0 L590.0,520.9 L592.6,527.5 L595.2,533.8 L597.7,539.9 L600.3,545.6 L602.8,551.1 L605.4,556.3 L607.9,561.3 L610.5,566.0 L613.1,570.5 L615.6,574.8 L618.2,578.8 L620.7,582.7 L623.3,586.3 L625.8,589.7 L628.4,593.0 L631.0,596.0 L633.5,598.9 L636.1,601.6 L638.6,604.2 L641.2,606.6 L643.7,608.9 L646.3,611.1 L648.8,613.1 L651.4,615.0 L654.0,616.8 L656.5,618.4 L659.1,620.0 L661.6,621.5 L664.2,622.9 L666.7,624.1 L669.3,625.4 L671.9,626.5 L674.4,627.5 L677.0,628.5 L679.5,629.5 L682.1,630.3 L684.6,631.1 L687.2,631.9 L689.7,632.6 L692.3,633.2 L694.9,633.8 L697.4,634.4 L700.0,634.9 L702.5,635.4 L705.1,635.9 L707.6,636.3 L710.2,636.7 L712.8,637.1 L715.3,637.4 L717.9,637.8 L719.1,637.9"/><path transform="translate(0.6,0)" d="M206.6,640.3 L209.2,639.9 L211.7,639.4 L214.3,638.8 L216.8,638.1 L219.4,637.2 L221.9,636.3 L224.5,635.1 L227.1,633.8 L229.6,632.4 L232.2,630.7 L234.7,628.9 L237.3,626.9 L239.8,624.7 L242.4,622.3 L244.9,619.7 L247.5,617.0 L250.1,614.2 L252.6,611.2 L255.2,608.1 L257.7,604.9 L260.3,601.7 L262.8,598.5 L265.4,595.3 L268.0,592.2 L270.5,589.1 L273.1,586.1 L275.6,583.3 L278.2,580.6 L280.7,578.2 L283.3,575.9 L285.8,573.8 L288.4,572.0 L291.0,570.5 L293.5,569.2 L296.1,568.1 L298.6,567.2 L301.2,566.5 L303.7,566.1 L306.3,565.7 L308.9,565.5 L311.4,565.3 L314.0,565.2 L316.5,565.0 L319.1,564.8 L321.6,564.4 L324.2,563.8 L326.7,562.9 L329.3,561.7 L331.9,560.2 L334.4,558.2 L337.0,555.7 L339.5,552.8 L342.1,549.3 L344.6,545.2 L347.2,540.5 L349.8,535.2 L352.3,529.2 L354.9,522.6 L357.4,515.3 L360.0,507.5 L362.5,498.9 L365.1,489.8 L367.6,480.0 L370.2,469.7 L372.8,458.8 L375.3,447.4 L377.9,435.4 L380.4,423.0 L383.0,410.2 L385.5,396.9 L388.1,383.3 L390.7,369.3 L393.2,355.0 L395.8,340.5 L398.3,325.8 L400.9,310.9 L403.4,295.9 L406.0,280.9 L408.6,265.9 L411.1,250.9 L413.7,236.1 L416.2,221.5 L418.8,207.1 L421.3,193.0 L423.9,179.3 L426.4,166.1 L429.0,153.4 L431.6,141.3 L434.1,129.8 L436.7,119.1 L439.2,109.0 L441.8,99.8 L444.3,91.5 L446.9,84.0 L449.5,77.4 L452.0,71.8 L454.6,67.2 L457.1,63.6 L459.7,61.0 L462.2,59.3 L464.8,58.7 L467.3,59.0 L469.9,60.4 L472.5,62.7 L475.0,65.9 L477.6,70.0 L480.1,75.0 L482.7,80.9 L485.2,87.5 L487.8,94.9 L490.4,103.0 L492.9,111.7 L495.5,121.1 L498.0,131.0 L500.6,141.4 L503.1,152.3 L505.7,163.5 L508.2,175.2 L510.8,187.1 L513.4,199.3 L515.9,211.7 L518.5,224.3 L521.0,236.9 L523.6,249.7 L526.1,262.5 L528.7,275.3 L531.3,288.0 L533.8,300.7 L536.4,313.2 L538.9,325.7 L541.5,338.0 L544.0,350.0 L546.6,361.9 L549.1,373.6 L551.7,385.0 L554.3,396.2 L556.8,407.0 L559.4,417.6 L561.9,427.9 L564.5,438.0 L567.0,447.7 L569.6,457.0 L572.2,466.1 L574.7,474.9 L577.3,483.3 L579.8,491.5 L582.4,499.3 L584.9,506.8 L587.5,514.0 L590.0,520.9 L592.6,527.5 L595.2,533.8 L597.7,539.9 L600.3,545.6 L602.8,551.1 L605.4,556.3 L607.9,561.3 L610.5,566.0 L613.1,570.5 L615.6,574.8 L618.2,578.8 L620.7,582.7 L623.3,586.3 L625.8,589.7 L628.4,593.0 L631.0,596.0 L633.5,598.9 L636.1,601.6 L638.6,604.2 L641.2,606.6 L643.7,608.9 L646.3,611.1 L648.8,613.1 L651.4,615.0 L654.0,616.8 L656.5,618.4 L659.1,620.0 L661.6,621.5 L664.2,622.9 L666.7,624.1 L669.3,625.4 L671.9,626.5 L674.4,627.5 L677.0,628.5 L679.5,629.5 L682.1,630.3 L684.6,631.1 L687.2,631.9 L689.7,632.6 L692.3,633.2 L694.9,633.8 L697.4,634.4 L700.0,634.9 L702.5,635.4 L705.1,635.9 L707.6,636.3 L710.2,636.7 L712.8,637.1 L715.3,637.4 L717.9,637.8 L719.1,637.9"/></g>
</g>
<text class="tk" text-anchor="end" x="160.3" y="22.3">270000</text>
<text class="tk" text-anchor="end" x="160.3" y="93.4">240000</text>
<text class="tk" text-anchor="end" x="160.3" y="163.0">210000</text>
<text class="tk" text-anchor="end" x="160.3" y="232.6">180000</text>
<text class="tk" text-anchor="end" x="160.3" y="302.2">150000</text>
<text class="tk" text-anchor="end" x="160.3" y="371.8">120000</text>
<text class="tk" text-anchor="end" x="160.3" y="441.4">90000</text>
<text class="tk" text-anchor="end" x="160.3" y="511.1">60000</text>
<text class="tk" text-anchor="end" x="160.3" y="580.7">30000</text>
<text class="tk" text-anchor="end" x="160.3" y="650.3">0</text>
<text class="tkx" text-anchor="middle" x="207.1" y="690.6">400</text>
<text class="tkx" text-anchor="middle" x="334.9" y="690.6">500</text>
<text class="tkx" text-anchor="middle" x="462.7" y="690.6">600</text>
<text class="tkx" text-anchor="middle" x="590.5" y="690.6">700</text>
<text class="tkx" text-anchor="middle" x="718.4" y="690.6">800</text>
<text class="tkx" text-anchor="middle" x="846.2" y="690.6">900</text>
<text class="tkx" text-anchor="middle" x="972.0" y="690.6">1000</text>
<text x="459.28" y="743.3" font-size="29.5">W</text>
<text x="492.95" y="743.3" font-size="29.5">a</text>
<text x="507.60" y="743.3" font-size="29.5">v</text>
<text x="524.09" y="743.3" font-size="29.5">e</text>
<text x="540.72" y="743.3" font-size="29.5">l</text>
<text x="550.89" y="743.3" font-size="29.5">e</text>
<text x="566.01" y="743.3" font-size="29.5">n</text>
<text x="580.12" y="743.3" font-size="29.5">g</text>
<text x="596.62" y="743.3" font-size="29.5">t</text>
<text x="605.77" y="743.3" font-size="29.5">h</text>
<text x="632.00" y="743.3" font-size="29.5">(</text>
<text x="641.40" y="743.3" font-size="29.5" font-style="italic">n</text>
<text x="659.44" y="743.3" font-size="29.5" font-style="italic">m</text>
<text x="684.05" y="743.3" font-size="29.5">)</text>
<text transform="translate(25.0,571.17) rotate(-90) scale(1,0.972)" font-size="33.5">M</text>
<text transform="translate(25.0,538.74) rotate(-90) scale(1,1.085)" font-size="30.0">o</text>
<text transform="translate(25.0,521.89) rotate(-90) scale(1,1.085)" font-size="30.0">l</text>
<text transform="translate(25.0,513.97) rotate(-90) scale(1,1.085)" font-size="30.0">a</text>
<text transform="translate(25.0,498.01) rotate(-90) scale(1,1.085)" font-size="30.0">r</text>
<text transform="translate(25.0,473.57) rotate(-90) scale(1,1.085)" font-size="30.0">a</text>
<text transform="translate(25.0,458.61) rotate(-90) scale(1,1.017)" font-size="32.0">b</text>
<text transform="translate(25.0,438.71) rotate(-90) scale(1,1.085)" font-size="30.0">s</text>
<text transform="translate(25.0,426.44) rotate(-90) scale(1,1.085)" font-size="30.0">o</text>
<text transform="translate(25.0,410.71) rotate(-90) scale(1,1.085)" font-size="30.0">r</text>
<text transform="translate(25.0,396.41) rotate(-90) scale(1,1.017)" font-size="32.0">p</text>
<text transform="translate(25.0,376.98) rotate(-90) scale(1,1.085)" font-size="30.0">t</text>
<text transform="translate(25.0,366.06) rotate(-90) scale(1,1.085)" font-size="30.0">i</text>
<text transform="translate(25.0,358.14) rotate(-90) scale(1,1.085)" font-size="30.0">o</text>
<text transform="translate(25.0,341.11) rotate(-90) scale(1,1.085)" font-size="30.0">n</text>
<text transform="translate(25.0,313.93) rotate(-90) scale(1,1.085)" font-size="30.0">c</text>
<text transform="translate(25.0,300.14) rotate(-90) scale(1,1.085)" font-size="30.0">o</text>
<text transform="translate(25.0,284.63) rotate(-90) scale(1,1.085)" font-size="30.0">e</text>
<text transform="translate(25.0,269.92) rotate(-90) scale(1,1.085)" font-size="30.0">f</text>
<text transform="translate(25.0,259.42) rotate(-90) scale(1,1.085)" font-size="30.0">f</text>
<text transform="translate(25.0,247.96) rotate(-90) scale(1,1.085)" font-size="30.0">i</text>
<text transform="translate(25.0,239.03) rotate(-90) scale(1,1.085)" font-size="30.0">c</text>
<text transform="translate(25.0,223.86) rotate(-90) scale(1,1.085)" font-size="30.0">i</text>
<text transform="translate(25.0,215.33) rotate(-90) scale(1,1.085)" font-size="30.0">e</text>
<text transform="translate(25.0,200.41) rotate(-90) scale(1,1.085)" font-size="30.0">n</text>
<text transform="translate(25.0,181.98) rotate(-90) scale(1,1.085)" font-size="30.0">t</text>
<text transform="translate(25.0,162.55) rotate(-90) scale(1,1.085)" font-size="26.1" style="font-weight:normal">(</text>
<text transform="translate(25.0,152.44) rotate(-90) scale(1,1.085)" font-size="30.0" style="font-style:italic;font-weight:normal">ε</text>
<text transform="translate(25.0,139.84) rotate(-90) scale(1,1.085)" font-size="26.1" style="font-weight:normal">)</text>
<text x="212.56" y="70.2" font-size="28">I</text>
<text x="225.35" y="70.2" font-size="28">n</text>
<text x="248.93" y="70.2" font-size="28">C</text>
<text x="270.40" y="70.2" font-size="28">h</text>
<text x="288.15" y="70.2" font-size="28">l</text>
<text x="296.13" y="70.2" font-size="28">o</text>
<text x="311.05" y="70.2" font-size="28">r</text>
<text x="323.33" y="70.2" font-size="28">o</text>
<text x="339.49" y="70.2" font-size="28">f</text>
<text x="349.03" y="70.2" font-size="28">o</text>
<text x="363.65" y="70.2" font-size="28">r</text>
<text x="376.25" y="70.2" font-size="28">m</text>
<rect x="766.1" y="35.1" width="185.9" height="263.5" fill="#fff" stroke="#000" stroke-width="1.6"/>
<path d="M777,57.3 H842.5" stroke="#000000" stroke-width="4" stroke-linecap="round" fill="none"/>
<text class="lg" x="850.0" y="67.1">DTPR</text>
<path d="M777,95.1 H842.5" stroke="#ff0000" stroke-width="4" stroke-linecap="round" fill="none"/>
<text class="lg" x="850.0" y="104.2">DTPD1</text>
<path d="M777,133.0 H842.5" stroke="#0000ff" stroke-width="4" stroke-linecap="round" fill="none"/>
<text class="lg" x="850.0" y="141.3">DTPD2</text>
<path d="M777,169.3 H842.5" stroke="#ff00ff" stroke-width="4" stroke-linecap="round" fill="none"/>
<text class="lg" x="850.0" y="178.4">DTPD3</text>
<path d="M777,207.0 H842.5" stroke="#008000" stroke-width="4" stroke-linecap="round" fill="none"/>
<text class="lg" x="850.0" y="215.5">DTPD4</text>
<path d="M777,243.5 H842.5" stroke="#000080" stroke-width="4" stroke-linecap="round" fill="none"/>
<text class="lg" x="850.0" y="252.6">DTPD5</text>
<path d="M777,281.3 H842.5" stroke="#8000ff" stroke-width="4" stroke-linecap="round" fill="none"/>
<text class="lg" x="850.0" y="289.7">DTPD6</text>
</svg></body></html>
